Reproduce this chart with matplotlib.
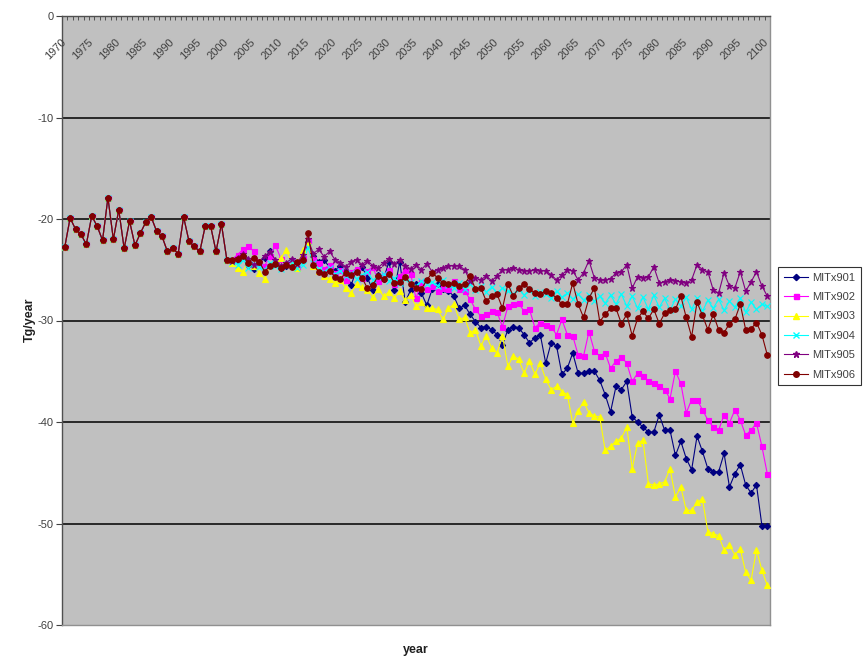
import numpy as np
import matplotlib
matplotlib.use("Agg")
import matplotlib.pyplot as plt
from matplotlib.lines import Line2D

plt.rcParams['font.family'] = ['Liberation Sans Narrow', 'Liberation Sans', 'DejaVu Sans']

# ---------------- data ----------------
hist = [-22.8, -19.9, -21.0, -21.5, -22.5, -19.7, -20.7, -22.1, -17.9, -22.0,
        -19.1, -22.9, -20.2, -22.6, -21.4, -20.3, -19.8, -21.2, -21.7, -23.2,
        -22.9, -23.4, -19.8, -22.2, -22.7, -23.2, -20.7, -20.7, -23.2, -20.5,
        -24.0]  # 1970-2000

mitx901 = [-24.2, -24.0, -23.6, -24.5, -24.9, -24.3, -23.8, -23.2, -24.4, -24.8,
           -24.6, -24.1, -24.7, -23.9, -22.3, -23.6, -24.2, -24.0, -24.8, -25.1,
           -24.6, -25.2, -26.5, -25.0, -24.7, -25.8, -27.0, -25.5, -25.9, -24.2,
           -27.0, -24.2, -28.2, -27.0, -26.4, -27.3, -28.5,
           -26.9, -26.4, -26.9, -27.1, -27.6, -28.8, -28.5, -29.4, -30.1, -30.7,
           -30.6, -30.9, -31.4, -32.4, -30.9, -30.6, -30.7, -31.4, -32.2, -31.7,
           -31.4, -34.2, -32.2, -32.5, -35.3, -34.7, -33.2, -35.2, -35.2, -35.0,
           -35.0, -35.9,
           -37.3, -39.0, -36.5, -36.8, -36.0, -39.5, -40.0, -40.5, -41.0, -41.0,
           -39.3, -40.8, -40.8, -43.3, -41.9, -43.6, -44.7, -41.4, -42.9, -44.6,
           -44.9, -44.9, -43.1, -46.4, -45.1, -44.2, -46.2, -47.0, -46.2, -50.2,
           -50.2]

mitx902 = [-24.0, -23.5, -23.0, -22.7, -23.2, -24.3, -24.6, -23.6, -22.6, -23.9,
           -24.4, -24.1, -24.7, -23.8, -22.2, -23.9, -24.3, -24.9, -24.5, -25.3,
           -25.0, -26.0, -25.2, -24.9, -25.8, -25.1, -24.7, -26.1, -25.5, -25.0,
           -26.4, -25.6, -25.0, -25.4, -27.8, -26.2, -26.9,
           -26.6, -27.1, -26.8, -26.9, -26.1, -26.9, -27.1, -27.9, -28.9, -29.6,
           -29.4, -29.1, -29.2, -30.6, -28.6, -28.4, -28.3, -29.1, -28.9, -30.7,
           -30.2, -30.4, -30.6, -31.4, -29.9, -31.4, -31.5, -33.4, -33.5, -31.1,
           -33.0, -33.5,
           -33.2, -34.7, -34.0, -33.6, -34.2, -36.0, -35.2, -35.5, -36.0, -36.2,
           -36.5, -36.8, -37.7, -35.0, -36.2, -39.1, -37.8, -37.8, -38.8, -39.8,
           -40.5, -40.8, -39.3, -40.1, -38.8, -39.8, -41.3, -40.8, -40.1, -42.4,
           -45.1]

mitx903 = [-24.3, -24.8, -25.2, -24.0, -24.6, -25.3, -25.9, -24.5, -24.2, -23.8,
           -23.1, -24.3, -24.8, -23.1, -22.3, -24.6, -25.1, -25.6, -25.9, -26.3,
           -26.0, -26.8, -27.3, -26.4, -26.7, -27.0, -27.7, -26.9, -27.6, -27.2,
           -27.8, -27.1, -28.0, -27.5, -28.6, -28.2, -28.8,
           -28.8, -28.9, -29.9, -28.8, -28.4, -29.9, -29.7, -31.2, -30.9, -32.5,
           -31.5, -32.7, -33.2, -31.5, -34.5, -33.5, -33.8, -35.2, -34.0, -35.3,
           -34.2, -35.8, -36.8, -36.5, -37.0, -37.3, -40.1, -38.9, -38.0, -39.1,
           -39.4, -39.5,
           -42.8, -42.4, -41.9, -41.6, -40.5, -44.6, -42.1, -41.8, -46.1, -46.2,
           -46.1, -45.9, -44.6, -47.4, -46.4, -48.7, -48.7, -47.9, -47.6, -50.8,
           -51.0, -51.2, -52.6, -52.1, -53.1, -52.5, -54.8, -55.6, -52.6, -54.6,
           -56.1]

mitx904 = [-24.2, -24.5, -24.0, -24.8, -24.4, -24.7, -25.0, -24.3, -24.6, -24.9,
           -24.4, -24.2, -24.8, -24.5, -22.8, -24.3, -24.9, -25.2, -24.8, -25.4,
           -25.1, -25.6, -25.3, -25.9, -25.5, -25.2, -26.0, -25.7, -25.4, -26.1,
           -25.8, -26.3, -25.9, -26.2, -26.6, -26.1, -26.4,
           -26.2, -26.6, -26.0, -26.5, -26.8, -26.3, -26.9, -26.4, -27.0, -26.6,
           -27.2, -26.7, -27.3, -26.8, -27.1, -27.4, -26.9, -27.5, -27.0, -27.6,
           -27.2, -27.4, -27.8, -27.1, -27.7, -27.3, -27.9, -27.4, -28.0, -27.5,
           -28.1, -27.6,
           -28.3, -27.5, -28.4, -27.4, -28.6, -27.6, -28.8, -27.7, -28.9, -27.5,
           -28.7, -27.8, -29.0, -27.9, -28.6, -27.7, -28.9, -27.8, -29.1, -28.0,
           -28.8, -27.9, -29.0, -28.1, -28.7, -27.8, -29.2, -28.2, -28.9, -28.4,
           -28.6]

mitx905 = [-24.1, -23.8, -23.4, -23.9, -24.5, -24.2, -23.6, -23.3, -24.0, -24.6,
           -24.3, -23.9, -24.4, -23.5, -22.0, -23.4, -23.0, -23.7, -23.2, -24.0,
           -24.3, -24.7, -24.2, -24.0, -24.5, -24.1, -24.6, -24.8, -24.3, -23.9,
           -24.4, -24.0, -24.6, -24.9, -24.5, -25.0, -24.4,
           -25.2, -25.0, -24.8, -24.6, -24.6, -24.6, -25.0, -26.1, -25.8, -26.0,
           -25.6, -26.1, -25.6, -25.0, -25.0, -24.8, -25.0, -25.1, -25.1, -25.0,
           -25.1, -25.1, -25.5, -26.0, -25.5, -25.0, -25.1, -26.0, -25.3, -24.1,
           -25.8, -26.0,
           -26.0, -25.9, -25.3, -25.2, -24.5, -26.8, -25.7, -25.8, -25.7, -24.7,
           -26.3, -26.2, -26.0, -26.1, -26.2, -26.3, -26.0, -24.5, -25.0, -25.2,
           -27.0, -27.3, -25.3, -26.6, -26.8, -25.2, -27.1, -26.2, -25.2, -26.6,
           -27.6]

mitx906 = [-24.0, -23.9, -23.6, -24.3, -23.8, -24.2, -25.2, -24.6, -24.4, -24.8,
           -24.5, -24.7, -24.2, -24.0, -21.4, -24.5, -25.2, -25.4, -25.1, -25.7,
           -25.9, -25.3, -25.5, -25.2, -25.8, -26.8, -26.5, -25.6, -25.9, -25.4,
           -26.3, -26.2, -25.7, -26.4, -26.8, -26.9, -26.0,
           -25.3, -25.8, -26.3, -26.4, -26.3, -26.6, -26.4, -25.6, -26.9, -26.8,
           -28.1, -27.6, -27.4, -28.8, -26.4, -27.6, -26.8, -26.4, -26.9, -27.3,
           -27.4, -27.1, -27.3, -27.8, -28.4, -28.4, -26.3, -28.4, -29.7, -27.8,
           -26.8, -30.1,
           -29.4, -28.8, -28.8, -30.3, -29.4, -31.5, -29.8, -29.1, -29.8, -28.9,
           -30.3, -29.3, -29.0, -28.9, -27.6, -29.7, -31.6, -28.2, -29.5, -30.9,
           -29.4, -30.9, -31.2, -30.3, -29.9, -28.4, -30.9, -30.8, -30.2, -31.4,
           -33.4]

series_names = ['MITx901', 'MITx902', 'MITx903', 'MITx904', 'MITx905', 'MITx906']
series_values = [mitx901, mitx902, mitx903, mitx904, mitx905, mitx906]
colors = ['#000080', '#FF00FF', '#FFFF00', '#00FFFF', '#800080', '#800000']
markers = ['D', 's', '^', 'x', '*', 'o']
msizes = [3.2, 3.6, 4.0, 4.0, 5.0, 4.0]

start_year = 1970
tick_years = list(range(1970, 2101, 5))
y_ticks = [0, -10, -20, -30, -40, -50, -60]

# ---------------- figure ----------------
W, H = 864, 663
fig = plt.figure(figsize=(W / 100, H / 100), dpi=100)
fig.patch.set_facecolor('white')
left, right, top, bottom = 62, 770, 16, 625
ax = fig.add_axes([left / W, 1 - bottom / H, (right - left) / W, (bottom - top) / H])
ax.set_facecolor('#C0C0C0')

for name, vals, c, m, ms in zip(series_names, series_values, colors, markers, msizes):
    full = hist + vals
    yrs = np.arange(start_year, start_year + len(full))
    ax.plot(yrs, full, color=c, lw=0.8, marker=m, ms=ms, mfc=c, mec=c,
            mew=0.8, label=name, zorder=3)

ax.set_xlim(start_year - 0.5, start_year + 130 + 0.5)
ax.set_ylim(-60, 0)

# horizontal gridlines
for yv in y_ticks[1:-1]:
    ax.axhline(yv, color='black', lw=1.1, zorder=2)

# y axis
ax.set_yticks(y_ticks)
ax.set_yticklabels([str(v) for v in y_ticks], fontsize=8, color='#404040')
ax.tick_params(axis='y', direction='out', length=4, width=0.8, color='#404040', pad=2)

# x axis at top (value 0), ticks every category boundary
ax.xaxis.set_ticks_position('top')
ax.set_xticks(np.arange(start_year - 0.5, start_year + 131, 1))
ax.set_xticklabels([])
ax.tick_params(axis='x', direction='in', length=3, width=0.6, color='#404040')

trans = ax.get_xaxis_transform()
for ty in tick_years:
    ax.text(ty - 0.7, 1 - 21 / (bottom - top), str(ty), transform=trans,
            rotation=45, rotation_mode='anchor', ha='right', va='top',
            fontsize=8, color='#404040', zorder=4)

for s in ['left', 'top']:
    ax.spines[s].set_color('#505050')
    ax.spines[s].set_linewidth(1.0)
for s in ['right', 'bottom']:
    ax.spines[s].set_color('#909090')
    ax.spines[s].set_linewidth(1.0)

fig.text(30 / W, 1 - 320 / H, 'Tg/year', rotation=90, ha='center', va='center',
         fontsize=9, fontweight='bold', color='#202020')
fig.text(416 / W, 1 - 650 / H, 'year', ha='center', va='center',
         fontsize=9, fontweight='bold', color='#202020')

handles = [Line2D([0], [0], color=c, lw=0.8, marker=m, ms=ms, mfc=c, mec=c)
           for c, m, ms in zip(colors, markers, msizes)]
leg = fig.legend(handles, series_names, loc='upper left',
                 bbox_to_anchor=(778 / W, 1 - 267 / H), fontsize=8,
                 frameon=True, fancybox=False, edgecolor='black',
                 handlelength=2.2, handletextpad=0.4, labelspacing=0.85,
                 borderpad=0.5, borderaxespad=0)
leg.get_frame().set_linewidth(0.8)
for t in leg.get_texts():
    t.set_color('#404040')

fig.savefig('out.png', dpi=100, facecolor='white')
